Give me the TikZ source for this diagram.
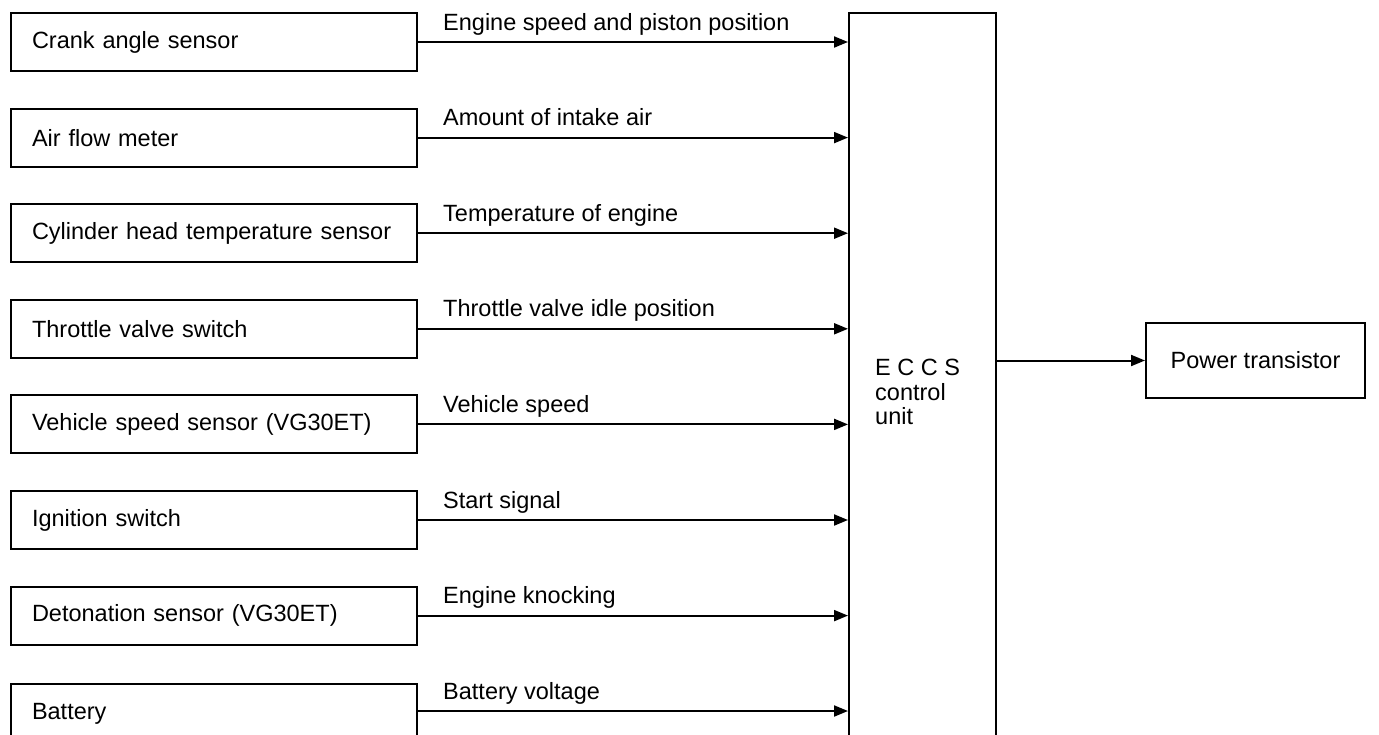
\documentclass[tikz,border=0pt]{standalone}
\usepackage{fontspec}
\setmainfont{Liberation Sans}
\usetikzlibrary{arrows.meta}
\tikzset{
  sensorbox/.style={draw, line width=2pt, minimum width=406pt, minimum height=58pt,
    text width=364pt, align=left, inner xsep=21pt, font=\fontsize{23.5}{26}\selectfont},
  siglabel/.style={anchor=base west, inner sep=0pt, font=\fontsize{23.5}{26}\selectfont},
  sig/.style={line width=2pt, -{Triangle[length=14pt,width=11pt]}},
  unitbox/.style={draw, line width=2pt}
}
\begin{document}
\begin{tikzpicture}[x=1pt,y=-1pt]
\useasboundingbox[fill=white] (0,0) rectangle (1379,734);
% ECCS control unit
\node[unitbox, minimum width=147pt, minimum height=760pt, anchor=north west, inner sep=0pt] (eccs) at (848,12) {};
\node[anchor=west, align=left, inner sep=0pt, font=\fontsize{23.5}{24.5}\selectfont] (eccstext) at (875,392) {E C C S\\control\\unit};
% Power transistor
\node[unitbox, minimum width=219pt, minimum height=75pt, font=\fontsize{23.5}{26}\selectfont] (pt) at (1255.5,360.5) {Power transistor};
\draw[sig] (eccs.east |- pt.west) -- (pt.west);
% sensors
\foreach \i/\name/\txt/\lab in {
  0/s1/{Crank angle sensor}/{Engine speed and piston position},
  1/s2/{Air flow meter}/{Amount of intake air},
  2/s3/{Cylinder head temperature sensor}/{Temperature of engine},
  3/s4/{Throttle valve switch}/{Throttle valve idle position},
  4/s5/{Vehicle speed sensor (VG30ET)}/{Vehicle speed},
  5/s6/{Ignition switch}/{Start signal},
  6/s7/{Detonation sensor (VG30ET)}/{Engine knocking}}
{
  \node[sensorbox] (\name) at (214, {42+95.6*\i}) {\txt};
  \draw[sig] (\name.east) -- (\name.east -| eccs.west);
  \node[siglabel] (\name lab) at (443, {30+95.6*\i}) {\lab};
}
% battery (cut off by the picture's lower edge)
\node[sensorbox, minimum height=60pt, anchor=north] (s8) at (214,683) {Battery};
\coordinate (s8e) at (417,711);
\draw[sig] (s8e) -- (s8e -| eccs.west);
\node[siglabel] (s8lab) at (443, 699) {Battery voltage};
\end{tikzpicture}
\end{document}
